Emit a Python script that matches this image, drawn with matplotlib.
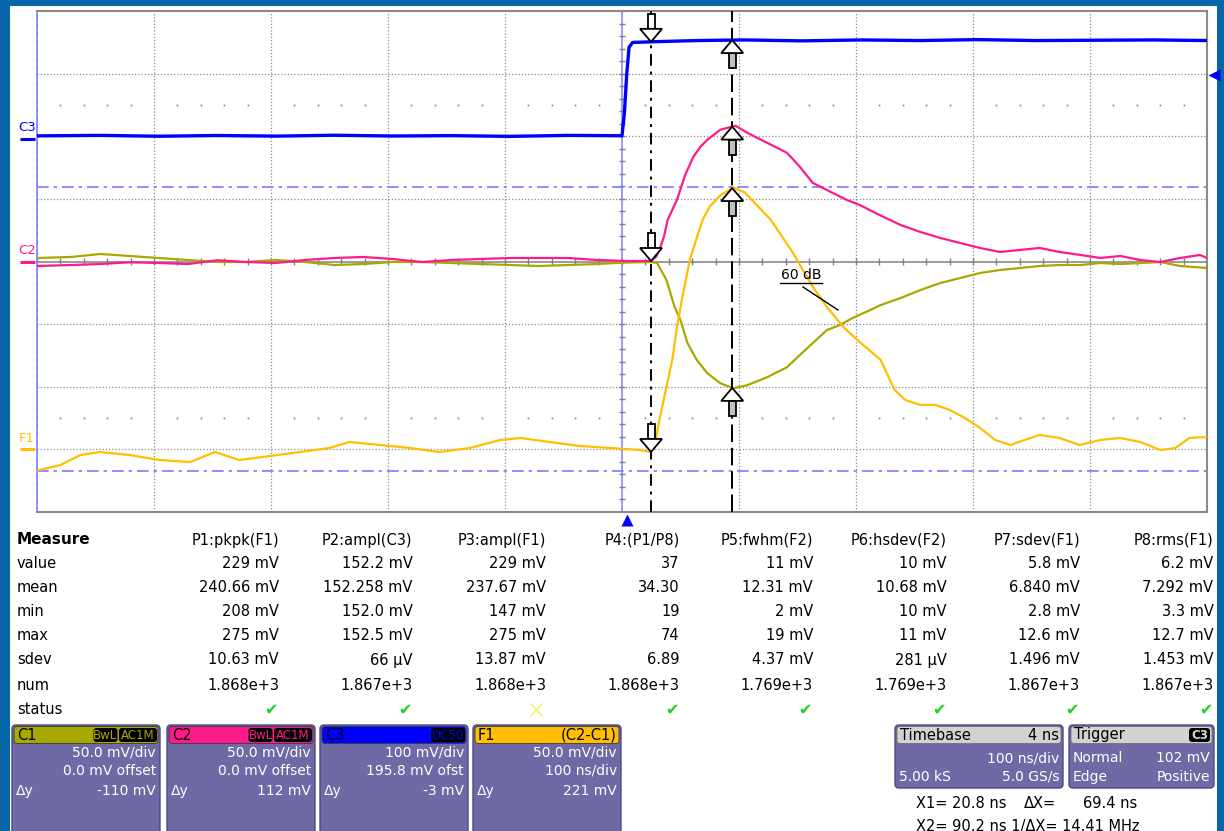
import numpy as np
import matplotlib.pyplot as plt
from matplotlib.patches import FancyBboxPatch, Polygon, Rectangle

plt.rcParams['font.family'] = ['DejaVu Sans']

W, H, DPI = 1224, 831, 100

# scope setup
TIME_DIV = 100.0          # ns/div
DELAY = 4.0               # ns
C1_VDIV, C1_POS = 50.0, 0.0
C2_VDIV, C2_POS = 50.0, 0.0
C3_VDIV, C3_OFST = 100.0, 195.8
F1_VDIV, F1_POS = 50.0, -3.0
TRIG_LEVEL = 102.0        # mV on C3
X1, X2 = 20.8, 90.2       # time cursors, ns

# traces (time in ns, amplitude in mV)
c3_t = [-504, -450, -400, -350, -300, -250, -200, -150, -100, -50, -4, -2, 0, 2, 5,
        30, 60, 100, 150, 200, 250, 300, 350, 400, 450, 496]
c3_mv = [4.8, 5.6, 4.2, 5.4, 4.4, 5.8, 4.6, 5.2, 4.0, 5.6, 5.0, 40.0, 102.0, 146.0, 154.0,
         155.5, 157.0, 158.0, 156.5, 158.0, 157.0, 158.5, 157.0, 157.5, 158.0, 157.0]

c2_t = [-504, -475, -450, -425, -400, -375, -350, -325, -300, -275, -250, -225, -200,
        -175, -150, -125, -100, -75, -50, -25, 0,
        21, 25, 28, 32, 35, 39, 43, 50, 57, 63, 69, 80, 93, 103, 120, 137, 148, 159,
        176, 188, 199, 216, 234, 251, 268, 285, 302, 319, 336, 353, 370, 388, 405,
        422, 439, 456, 473, 490, 496]
c2_mv = [-3.6, -2.8, -2.0, -0.6, -1.2, -2.0, 1.0, -0.4, -1.2, 1.2, 2.8, 3.6, 2.0,
         -0.4, 1.2, 2.0, 2.8, 2.8, 2.8, 1.2, 0.4,
         0.4, 3.6, 9.2, 20.4, 33.2, 41.2, 49.2, 69.2, 83.6, 91.6, 97.2, 105.2, 108.4,
         102.8, 94.8, 86.8, 75.6, 62.8, 54.8, 49.2, 45.2, 37.2, 29.2, 23.6, 18.8,
         14.8, 10.8, 7.6, 9.2, 10.8, 7.6, 5.2, 2.8, 4.4, 1.2, -0.4, 2.8, 5.2, 2.8]

c1_t = [-504, -475, -450, -425, -400, -375, -350, -325, -300, -275, -250, -225, -200,
        -175, -150, -125, -100, -75, -50, -25, 0,
        21, 26, 34, 41, 46, 52, 60, 69, 80, 91, 103, 120, 137, 146, 159, 171, 182,
        193, 208, 217, 234, 251, 268, 285, 302, 319, 336, 353, 370, 388, 405, 422,
        439, 456, 473, 496]
c1_mv = [2.8, 3.6, 6.0, 4.4, 2.8, 1.2, -0.4, -0.4, 1.2, -0.4, -2.8, -2.0, -0.4,
         -0.4, -1.2, -2.0, -2.8, -3.6, -2.8, -2.0, -0.8,
         -0.4, -1.2, -14.8, -36.4, -46.8, -65.2, -78.8, -89.2, -97.2, -101.2, -98.8,
         -92.4, -84.4, -76.4, -65.2, -54.8, -50.8, -45.2, -38.8, -34.8, -29.2, -22.8,
         -17.2, -13.2, -9.2, -6.8, -5.2, -3.6, -2.8, -2.8, -1.2, -2.0, -1.2, -0.4,
         -3.6, -5.2]

f1_t = [-504, -484, -467, -450, -425, -399, -373, -352, -331, -305, -279, -254, -237,
        -211, -185, -160, -134, -108, -91, -66, -40, -14, 11, 21, 24, 28, 34, 39, 43,
        48, 54, 60, 65, 71, 80, 91, 101, 123, 142, 159, 171, 185, 197, 217, 229, 238,
        251, 264, 276, 289, 302, 315, 328, 340, 353, 370, 387, 405, 422, 439, 456,
        469, 481, 496]
f1_mv = [-17.0, -12.5, -4.5, -2.1, -4.5, -8.5, -10.1, -2.1, -8.5, -5.3, -2.1, 1.1, 5.9,
         3.5, 1.1, -2.1, 1.1, 7.5, 9.1, 5.9, 2.7, 1.1, -0.5, -2.1, 3.5, 23.5, 49.9,
         71.5, 97.9, 123.5, 151.5, 169.1, 183.5, 193.9, 202.7, 209.1, 205.1, 183.5,
         157.1, 129.9, 113.9, 97.9, 87.5, 71.5, 47.5, 39.5, 35.5, 35.5, 31.5, 25.1,
         17.1, 7.5, 3.5, 7.5, 11.5, 9.1, 3.5, 7.5, 9.1, 5.9, -0.5, 1.1, 9.1, 9.9]

# measurement table
row_names = ['value', 'mean', 'min', 'max', 'sdev', 'num', 'status']
param_names = ['P1:pkpk(F1)', 'P2:ampl(C3)', 'P3:ampl(F1)', 'P4:(P1/P8)',
               'P5:fwhm(F2)', 'P6:hsdev(F2)', 'P7:sdev(F1)', 'P8:rms(F1)']
p1 = ['229 mV', '240.66 mV', '208 mV', '275 mV', '10.63 mV', '1.868e+3']
p2 = ['152.2 mV', '152.258 mV', '152.0 mV', '152.5 mV', '66 µV', '1.867e+3']
p3 = ['229 mV', '237.67 mV', '147 mV', '275 mV', '13.87 mV', '1.868e+3']
p4 = ['37', '34.30', '19', '74', '6.89', '1.868e+3']
p5 = ['11 mV', '12.31 mV', '2 mV', '19 mV', '4.37 mV', '1.769e+3']
p6 = ['10 mV', '10.68 mV', '10 mV', '11 mV', '281 µV', '1.769e+3']
p7 = ['5.8 mV', '6.840 mV', '2.8 mV', '12.6 mV', '1.496 mV', '1.867e+3']
p8 = ['6.2 mV', '7.292 mV', '3.3 mV', '12.7 mV', '1.453 mV', '1.867e+3']
status = ['ok', 'ok', 'warn', 'ok', 'ok', 'ok', 'ok', 'ok']

COL_C1, COL_C2, COL_C3, COL_F1 = '#a8a800', '#ff1a8c', '#0000ff', '#ffbf00'
BOX_FILL, BOX_EDGE = '#6f69a5', '#4e4984'
GRID = '#8c8c8c'
BADGE_W = {'BwL': 24, 'AC1M': 38, 'DC50': 34}


def c12_div(v, vdiv, pos):
    return np.asarray(v) / vdiv + pos


def c3_div(v):
    return (np.asarray(v) + C3_OFST) / C3_VDIV


fig = plt.figure(figsize=(W / DPI, H / DPI), dpi=DPI, facecolor='#0765a9')

bg = fig.add_axes([0, 0, 1, 1], zorder=0)
bg.set_xlim(0, W)
bg.set_ylim(H, 0)
bg.axis('off')
bg.add_patch(Rectangle((10, 6), 1207, 830, fc='white', ec='none'))

ax = fig.add_axes([37 / W, 1 - 512 / H, 1170 / W, 501 / H], zorder=1)
t0, t1 = -DELAY - 5 * TIME_DIV, -DELAY + 5 * TIME_DIV
ax.set_xlim(t0, t1)
ax.set_ylim(-4, 4)
ax.set_xticks([])
ax.set_yticks([])
ax.set_facecolor('white')
for side in ['top', 'right', 'bottom']:
    ax.spines[side].set_color('#8a8a8a')
    ax.spines[side].set_linewidth(1.5)
ax.spines['left'].set_color('#8080ff')
ax.spines['left'].set_linewidth(1.2)
ax.axvline(t0, color='#707070', lw=1.2, ls=(0, (3, 2)), zorder=2)

# graticule
tc = -DELAY
for k in range(1, 10):
    if k != 5:
        ax.axvline(t0 + k * TIME_DIV, color=GRID, lw=0.9, ls=(0, (1, 1.6)), zorder=1)
for d in [-3, -2, -1, 1, 2, 3]:
    ax.axhline(d, color=GRID, lw=0.9, ls=(0, (1, 1.6)), zorder=1)
ax.axhline(0, color='#808080', lw=1.1, zorder=1)
ax.axvline(tc, color='#8080ff', lw=1.1, zorder=1)
minor_t = np.arange(t0, t1 + 0.1, TIME_DIV / 5)
ax.vlines(minor_t, -0.055, 0.055, color='#808080', lw=1, zorder=1)
minor_d = np.arange(-4, 4.01, 0.2)
ax.hlines(minor_d, tc - 2.8, tc + 2.8, color='#808080', lw=1, zorder=1)
dot_t = [t for i, t in enumerate(minor_t) if i % 5 != 0]
for d in [2.5, -2.5]:
    ax.plot(dot_t, [d] * len(dot_t), ls='none', marker='s', ms=1.3, color='#909090',
            mec='none', zorder=1)

# pkpk level cursors of F1
f1_div = c12_div(f1_mv, F1_VDIV, F1_POS)
for lvl in [f1_div.max(), f1_div.min()]:
    ax.axhline(lvl, color='#7a7aff', lw=1.2, ls=(0, (7, 3, 2, 3)), zorder=2)

# time cursors
ax.axvline(X1, color='black', lw=1.4, ls=(0, (6, 3, 1.5, 3)), zorder=5)
ax.axvline(X2, color='black', lw=1.4, ls=(0, (9, 3)), zorder=5)

# traces
c1_div = c12_div(c1_mv, C1_VDIV, C1_POS)
c2_div = c12_div(c2_mv, C2_VDIV, C2_POS)
c3d = c3_div(c3_mv)
ax.plot(c1_t, c1_div, color=COL_C1, lw=1.6, zorder=3)
ax.plot(c2_t, c2_div, color=COL_C2, lw=1.6, zorder=3)
ax.plot(f1_t, f1_div, color=COL_F1, lw=1.6, zorder=3)
ax.plot(c3_t, c3d, color=COL_C3, lw=2.4, zorder=4)

ov = fig.add_axes([0, 0, 1, 1], zorder=2)
ov.set_xlim(0, W)
ov.set_ylim(H, 0)
ov.axis('off')
ov.patch.set_visible(False)


def screen_px(t, d):
    x, y = ax.transData.transform((t, d))
    return x, H - y


def cursor_arrow(t, d, up):
    x, y = screen_px(t, d)
    s = 1 if up else -1
    shaft = [(x - 3.5, y + s * 13), (x + 3.5, y + s * 13),
             (x + 3.5, y + s * 28), (x - 3.5, y + s * 28)]
    head = [(x, y), (x - 11, y + s * 13), (x + 11, y + s * 13)]
    ov.add_patch(Polygon(shaft, closed=True, fc='#c0c0c0' if up else 'white',
                         ec='black', lw=1.3, zorder=6))
    ov.add_patch(Polygon(head, closed=True, fc='white', ec='black', lw=1.3, zorder=6))


for tt, dd in [(c3_t, c3d), (c2_t, c2_div), (f1_t, f1_div)]:
    cursor_arrow(X1, np.interp(X1, tt, dd), up=False)
for tt, dd in [(c3_t, c3d), (c2_t, c2_div), (f1_t, f1_div), (c1_t, c1_div)]:
    cursor_arrow(X2, np.interp(X2, tt, dd), up=True)

# channel ground markers on the left
for name, col, gnd in [('C3', COL_C3, c3_div(0.0)), ('C2', COL_C2, C2_POS),
                       ('F1', COL_F1, F1_POS)]:
    _, y = screen_px(t0, gnd)
    ov.plot([20, 35], [y, y], color=col, lw=2.2, solid_capstyle='butt')
    ov.text(27, y - 11, name, color=col, fontsize=9.5, ha='center', va='center')

# trigger markers
xt, _ = screen_px(0.0, -4)
ov.plot(xt, 520, marker='^', ms=9, color='#0000ff', mec='none', clip_on=False)
_, yt = screen_px(t1, c3_div(TRIG_LEVEL))
ov.plot(1214, yt, marker='<', ms=9, color='#0000ff', mec='none', clip_on=False)

# trace label
ov.text(801, 275, '60 dB', fontsize=10, ha='center', va='center')
ov.plot([780, 822], [283, 283], color='black', lw=1)
ov.plot([803, 838], [287, 310], color='black', lw=1)

# measurement table
cols = [p1, p2, p3, p4, p5, p6, p7, p8]
row_y = [563, 587, 611, 635, 660, 685, 710]
ov.text(17, 540, 'Measure', fontsize=11, fontweight='bold', va='center')
for name, y in zip(row_names, row_y):
    ov.text(17, y, name, fontsize=10.5, va='center')
for i, (hdr, vals, st) in enumerate(zip(param_names, cols, status)):
    xr = 279 + 133.5 * i
    ov.text(xr, 540, hdr, fontsize=10.5, ha='right', va='center')
    for v, y in zip(vals, row_y):
        ov.text(xr, y, v, fontsize=10.5, ha='right', va='center')
    if st == 'ok':
        ov.text(xr - 1, 710, '\u2714', fontsize=11.5, color='#1ed21e', ha='right',
                va='center')
    else:
        ov.plot([xr - 15, xr - 4], [704, 716], color='#f5f07a', lw=1.2)
        ov.plot([xr - 15, xr - 4], [716, 704], color='#f5f07a', lw=1.2)


def channel_box(x0, col, name, badges, lines, dy):
    ov.add_patch(FancyBboxPatch((x0, 725), 148, 120, boxstyle='round,pad=0,rounding_size=4',
                                fc=BOX_FILL, ec=BOX_EDGE, lw=1))
    ov.add_patch(FancyBboxPatch((x0 + 2, 726.5), 144, 17,
                                boxstyle='round,pad=0,rounding_size=3',
                                fc=col, ec='#3a3a3a', lw=0.6))
    ov.text(x0 + 5, 735, name, fontsize=10.5, va='center', color='black')
    xr = x0 + 145
    for b in reversed(badges):
        bw = BADGE_W[b]
        ov.add_patch(FancyBboxPatch((xr - bw, 728), bw, 14,
                                    boxstyle='round,pad=0,rounding_size=3',
                                    fc='black', ec='none'))
        ov.text(xr - bw / 2, 735.5, b, fontsize=8.5, ha='center', va='center', color=col)
        xr -= bw + 1.5
    ov.text(x0 + 144, 752, lines[0], fontsize=10, ha='right', va='center', color='white')
    ov.text(x0 + 144, 771, lines[1], fontsize=10, ha='right', va='center', color='white')
    ov.text(x0 + 4, 791, '\u0394y', fontsize=10, va='center', color='white')
    ov.text(x0 + 144, 791, dy, fontsize=10, ha='right', va='center', color='white')


channel_box(12, COL_C1, 'C1', ['BwL', 'AC1M'], ['50.0 mV/div', '0.0 mV offset'], '-110 mV')
channel_box(167, COL_C2, 'C2', ['BwL', 'AC1M'], ['50.0 mV/div', '0.0 mV offset'], '112 mV')
channel_box(320, COL_C3, 'C3', ['DC50'], ['100 mV/div', '195.8 mV ofst'], '-3 mV')
channel_box(473, COL_F1, 'F1', [], ['50.0 mV/div', '100 ns/div'], '221 mV')
ov.text(473 + 144, 735, '(C2-C1)', fontsize=10.5, ha='right', va='center')


def info_box(x0, w, title, right_title, rows, badge=None):
    ov.add_patch(FancyBboxPatch((x0, 725), w, 63, boxstyle='round,pad=0,rounding_size=4',
                                fc=BOX_FILL, ec=BOX_EDGE, lw=1))
    ov.add_patch(FancyBboxPatch((x0 + 2, 726.5), w - 4, 17,
                                boxstyle='round,pad=0,rounding_size=3',
                                fc='#d2d2d2', ec='#707070', lw=0.6))
    ov.text(x0 + 5, 735, title, fontsize=10.5, va='center')
    if right_title:
        ov.text(x0 + w - 4, 735, right_title, fontsize=10.5, ha='right', va='center')
    if badge:
        ov.add_patch(FancyBboxPatch((x0 + w - 25, 728), 21, 14,
                                    boxstyle='round,pad=0,rounding_size=3',
                                    fc='black', ec='none'))
        ov.text(x0 + w - 14.5, 735.5, badge, fontsize=8.5, ha='center', va='center',
                color='#d8d8d8', fontweight='bold')
    for (left, right), y in zip(rows, [758, 777]):
        if left:
            ov.text(x0 + 4, y, left, fontsize=10, va='center', color='white')
        ov.text(x0 + w - 4, y, right, fontsize=10, ha='right', va='center', color='white')


info_box(895, 168, 'Timebase', f'{DELAY:.0f} ns',
         [('', f'{TIME_DIV:.0f} ns/div'), ('5.00 kS', '5.0 GS/s')])
info_box(1069, 145, 'Trigger', None,
         [('Normal', f'{TRIG_LEVEL:.0f} mV'), ('Edge', 'Positive')], badge='C3')

dx = X2 - X1
ov.text(916, 803, f'X1= {X1:.1f} ns', fontsize=10.5, va='center')
ov.text(1024, 803, '\u0394X=', fontsize=10.5, va='center')
ov.text(1137, 803, f'{dx:.1f} ns', fontsize=10.5, ha='right', va='center')
ov.text(916, 826, f'X2= {X2:.1f} ns 1/\u0394X= {1e3 / dx:.2f} MHz', fontsize=10.5,
        va='center')

fig.savefig('out.png', dpi=DPI, facecolor=fig.get_facecolor())
